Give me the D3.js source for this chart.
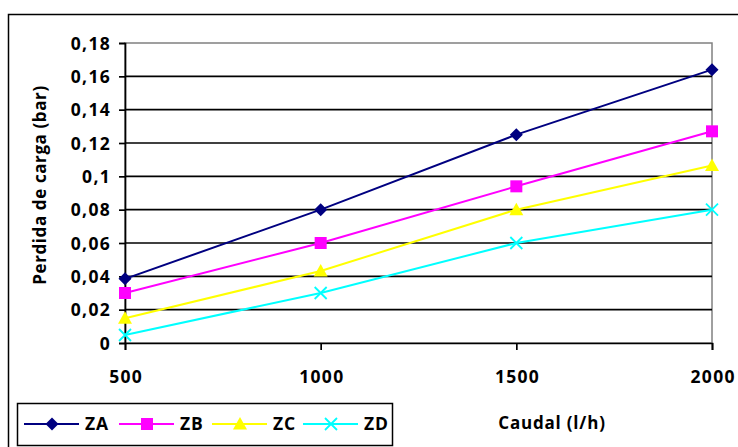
<!DOCTYPE html>
<html><head><meta charset="utf-8">
<script src="https://cdn.jsdelivr.net/npm/d3@7"></script>
<style>body{margin:0;background:#fff}svg{display:block}</style>
</head><body><svg id="c" width="738" height="447"></svg>
<script>
const categories = [500, 1000, 1500, 2000];
const seriesNames = ["ZA", "ZB", "ZC", "ZD"];
const ZA = [0.0385, 0.080, 0.125, 0.164];
const ZB = [0.030, 0.060, 0.094, 0.127];
const ZC = [0.0148, 0.0432, 0.080, 0.1065];
const ZD = [0.0048, 0.030, 0.060, 0.080];
const yTicks = [0, 0.02, 0.04, 0.06, 0.08, 0.1, 0.12, 0.14, 0.16, 0.18];
const colors = ["#000080", "#FF00FF", "#FFFF00", "#00FFFF"];
const symbols = ["diamond", "square", "triangle", "cross"];
const yTitle = "Perdida de carga (bar)";
const xTitle = "Caudal (l/h)";

const svg = d3.select("#c");
const font = "'Open Sans', sans-serif";
const L = 125, R = 712, T = 43, B = 343;
const x = d3.scalePoint().domain(categories).range([L, R]);
const y = d3.scaleLinear().domain([0, 0.18]).range([B, T]);
const fmt = d => String(+d.toFixed(2)).replace(".", ",");
const styleText = s => s.attr("font-family", font).attr("font-weight", "bold")
  .attr("font-size", 17.5).attr("letter-spacing", 1.3).attr("fill", "#000");

// outer frame
svg.append("rect").attr("x", 8.5).attr("y", 14.5).attr("width", 740).attr("height", 450)
  .attr("fill", "none").attr("stroke", "#000").attr("stroke-width", 1.5);

// plot border (gray)
svg.append("rect").attr("x", L).attr("y", T).attr("width", R - L).attr("height", B - T)
  .attr("fill", "none").attr("stroke", "#808080").attr("stroke-width", 1.5);

// gridlines
svg.append("g").selectAll("line").data(yTicks.filter(d => d > 0 && d < 0.18)).join("line")
  .attr("x1", L).attr("x2", R).attr("y1", d => y(d)).attr("y2", d => y(d))
  .attr("stroke", "#000").attr("stroke-width", 1.7);

// y axis
const ya = svg.append("g").attr("transform", `translate(${L},0)`)
  .call(d3.axisLeft(y).tickValues(yTicks).tickFormat(fmt).tickSize(6).tickPadding(8));
ya.select(".domain").attr("stroke", "#000").attr("stroke-width", 1.7);
ya.selectAll(".tick line").attr("stroke", "#000").attr("stroke-width", 1.7);
ya.selectAll("text").call(styleText).attr("dy", "0.36em");

// x axis
const xa = svg.append("g").attr("transform", `translate(0,${B})`)
  .call(d3.axisBottom(x).tickSize(7));
xa.select(".domain").attr("stroke", "#000").attr("stroke-width", 1.7);
xa.selectAll(".tick line").attr("stroke", "#000").attr("stroke-width", 1.7);
xa.selectAll("text").call(styleText).attr("y", 40).attr("dy", 0).attr("dx", 0.65);

// titles
svg.append("text").attr("transform", `translate(46,${185}) rotate(-90)`)
  .attr("text-anchor", "middle").call(styleText).attr("font-size", 17).attr("letter-spacing", 0.6).text(yTitle);
svg.append("text").attr("x", 552).attr("y", 429).attr("text-anchor", "middle")
  .call(styleText).attr("font-size", 17).attr("letter-spacing", 0.8).text(xTitle);

function marker(g, kind, color, cx, cy) {
  if (kind === "diamond") {
    g.append("path").attr("d", `M${cx},${cy-6.5}L${cx+6.5},${cy}L${cx},${cy+6.5}L${cx-6.5},${cy}Z`).attr("fill", color);
  } else if (kind === "square") {
    g.append("rect").attr("x", cx - 6).attr("y", cy - 6).attr("width", 12).attr("height", 12).attr("fill", color);
  } else if (kind === "triangle") {
    g.append("path").attr("d", `M${cx},${cy-7}L${cx+7},${cy+5.5}L${cx-7},${cy+5.5}Z`).attr("fill", color);
  } else {
    g.append("path").attr("d", `M${cx-6},${cy-6}L${cx+6},${cy+6}M${cx+6},${cy-6}L${cx-6},${cy+6}`)
      .attr("stroke", color).attr("stroke-width", 1.8);
  }
}

const allSeries = [ZA, ZB, ZC, ZD];
const line = d3.line().x((d, i) => x(categories[i])).y(d => y(d));
allSeries.forEach((vals, si) => {
  const g = svg.append("g");
  g.append("path").attr("d", line(vals)).attr("fill", "none").attr("stroke", colors[si]).attr("stroke-width", 2);
  vals.forEach((v, i) => marker(g, symbols[si], colors[si], x(categories[i]), y(v)));
});

// legend
const lg = svg.append("g");
lg.append("rect").attr("x", 17.5).attr("y", 403.5).attr("width", 375).attr("height", 42)
  .attr("fill", "#fff").attr("stroke", "#000").attr("stroke-width", 1.5);
const legX = [24, 119, 212, 303];
seriesNames.forEach((n, i) => {
  const g = lg.append("g");
  const x0 = legX[i], cy = 424;
  g.append("line").attr("x1", x0).attr("x2", x0 + 55).attr("y1", cy).attr("y2", cy)
    .attr("stroke", colors[i]).attr("stroke-width", 2);
  marker(g, symbols[i], colors[i], x0 + 28, cy);
  g.append("text").attr("x", x0 + 61).attr("y", cy + 6).call(styleText).attr("letter-spacing", 0.8).text(n);
});
</script></body></html>
